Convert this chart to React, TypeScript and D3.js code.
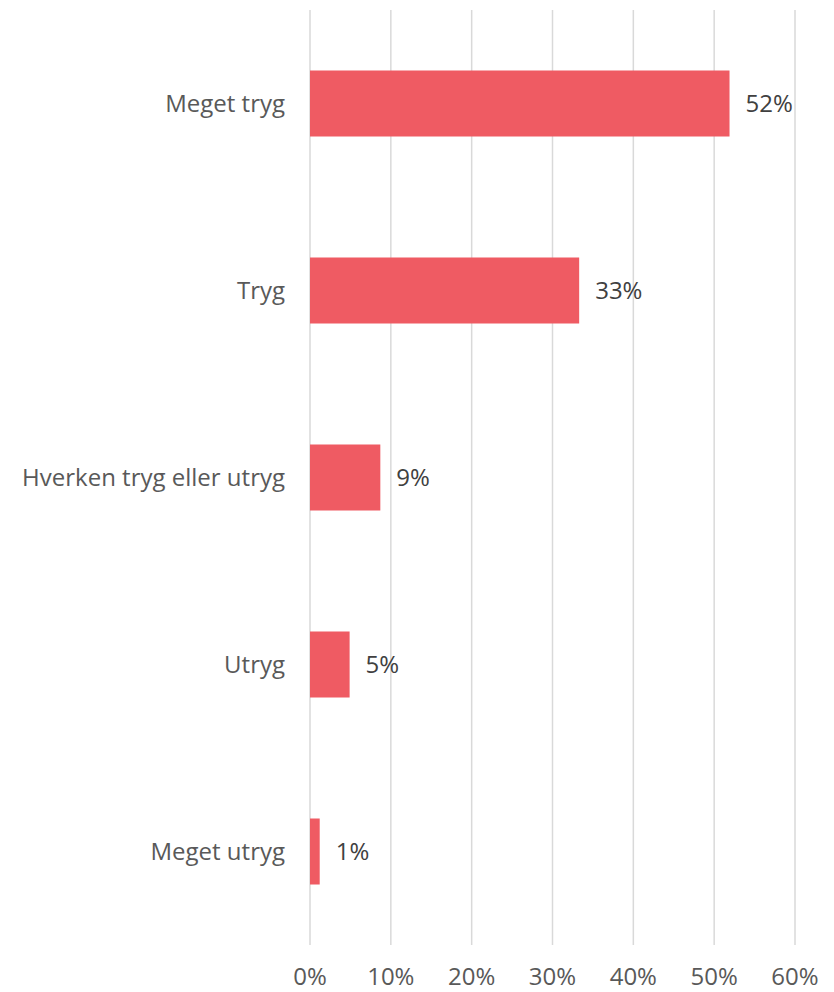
import React, { useEffect, useRef } from 'react';
import * as d3 from 'd3';

const categories = ['Meget tryg', 'Tryg', 'Hverken tryg eller utryg', 'Utryg', 'Meget utryg'];
const values = [0.519, 0.333, 0.087, 0.049, 0.012];
const labels = ['52%', '33%', '9%', '5%', '1%'];
const ticks = [0, 0.1, 0.2, 0.3, 0.4, 0.5, 0.6];

const App: React.FC = () => {
  const ref = useRef<SVGSVGElement>(null);
  const W = 834;
  const H = 992;
  const margin = { top: 10, right: 39, bottom: 47, left: 310 };
  const width = W - margin.left - margin.right;
  const height = H - margin.top - margin.bottom;
  const font = '"Open Sans", sans-serif';

  useEffect(() => {
    if (!ref.current) return;
    d3.select(ref.current).selectAll('*').remove();

    const svg = d3
      .select(ref.current)
      .append('g')
      .attr('transform', `translate(${margin.left},${margin.top})`);

    const x = d3.scaleLinear().domain([0, 0.6]).range([0, width]);
    const y = d3
      .scaleBand<string>()
      .domain(categories)
      .range([0, height])
      .paddingInner(0.647)
      .paddingOuter(0.3235);

    // vertical grid
    svg
      .append('g')
      .selectAll('line')
      .data(ticks)
      .enter()
      .append('line')
      .attr('x1', (d) => x(d))
      .attr('x2', (d) => x(d))
      .attr('y1', 0)
      .attr('y2', height)
      .attr('stroke', '#d9d9d9')
      .attr('stroke-width', 1.5);

    // x tick labels
    svg
      .append('g')
      .selectAll('text')
      .data(ticks)
      .enter()
      .append('text')
      .attr('x', (d) => x(d))
      .attr('y', height + 40)
      .attr('text-anchor', 'middle')
      .attr('font-family', font)
      .attr('font-size', 24)
      .attr('fill', '#595959')
      .text((d) => d3.format('.0%')(d));

    // bars
    svg
      .selectAll('.bar')
      .data(values)
      .enter()
      .append('rect')
      .attr('class', 'bar')
      .attr('x', x(0))
      .attr('y', (_, i) => y(categories[i])!)
      .attr('width', (d) => x(d) - x(0))
      .attr('height', y.bandwidth())
      .attr('fill', '#ef5b63');

    // value labels
    svg
      .selectAll('.val')
      .data(values)
      .enter()
      .append('text')
      .attr('class', 'val')
      .attr('x', (d) => x(d) + 16)
      .attr('y', (_, i) => y(categories[i])! + y.bandwidth() / 2)
      .attr('dy', '0.35em')
      .attr('font-family', font)
      .attr('font-size', 24)
      .attr('fill', '#404040')
      .text((_, i) => labels[i]);

    // category labels
    svg
      .selectAll('.cat')
      .data(categories)
      .enter()
      .append('text')
      .attr('class', 'cat')
      .attr('x', -25)
      .attr('y', (d) => y(d)! + y.bandwidth() / 2)
      .attr('dy', '0.35em')
      .attr('text-anchor', 'end')
      .attr('font-family', font)
      .attr('font-size', 24)
      .attr('fill', '#595959')
      .text((d) => d);
  }, []);

  return (
    <svg
      ref={ref}
      width={W}
      height={H}
      style={{ position: 'absolute', left: 0, top: 0, background: '#fff' }}
    />
  );
};

export default App;
